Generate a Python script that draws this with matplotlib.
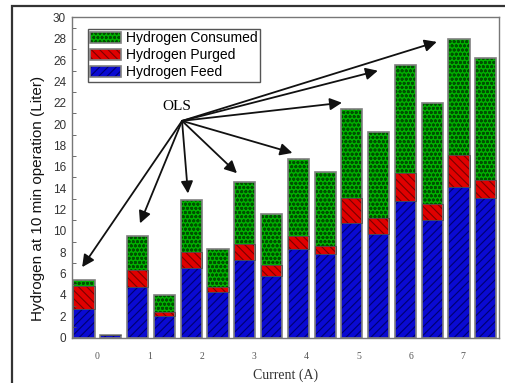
import matplotlib as mpl
mpl.use('agg')
import matplotlib.pyplot as plt
from matplotlib.patches import Rectangle
from matplotlib.legend_handler import HandlerTuple
from matplotlib.ticker import MultipleLocator

plt.rcParams['font.family'] = ['Liberation Sans', 'DejaVu Sans']
plt.rcParams['hatch.linewidth'] = 0.8

# hydrogen volumes (liter) per bar, two bars per current step
feed = [2.65, 0.2, 4.75, 2.0, 6.5, 4.25, 7.3, 5.8, 8.3, 7.8, 10.75, 9.75, 12.8, 11.0, 14.1, 13.1]
purged = [2.2, 0.0, 1.6, 0.4, 1.55, 0.45, 1.5, 1.0, 1.25, 0.8, 2.35, 1.45, 2.6, 1.5, 3.0, 1.7]
consumed = [0.55, 0.0, 3.2, 1.55, 4.85, 3.6, 5.8, 4.8, 7.15, 6.9, 8.3, 8.1, 10.1, 9.5, 10.9, 11.4]
current_labels = ['0', '1', '2', '3', '4', '5', '6', '7']

# OLS arrow tips (data coords)
ols_tips = [(-0.07, 6.6), (2.09, 10.7), (3.88, 13.5), (5.71, 15.4),
            (7.78, 17.3), (9.63, 22.0), (10.97, 25.0), (13.17, 27.7)]

x = list(range(len(feed)))
bottom_p = feed
bottom_c = [f + p for f, p in zip(feed, purged)]
totals = [b + c for b, c in zip(bottom_c, consumed)]

fig = plt.figure(figsize=(5.06, 3.83), dpi=100)
ax = fig.add_axes([0.1417, 0.1185, 0.8443, 0.8363])

w = 0.79
with plt.rc_context({'hatch.color': '#000070'}):
    b_feed = ax.bar(x, feed, w, color='#0a0ad2', hatch='////', linewidth=0,
                    label='Hydrogen Feed')
with plt.rc_context({'hatch.color': '#7a0000'}):
    b_purge = ax.bar(x, purged, w, bottom=bottom_p, color='#e00000', hatch='\\\\\\\\',
                     linewidth=0, label='Hydrogen Purged')
with plt.rc_context({'hatch.color': '#005000', 'hatch.linewidth': 0.9}):
    b_cons = ax.bar(x, consumed, w, bottom=bottom_c, color='#00b000', hatch='oooo',
                    linewidth=0, label='Hydrogen Consumed')

# outlines drawn separately so the hatch keeps its own colour
outline = ax.bar(x, totals, w, facecolor='none', edgecolor='#808080', linewidth=1.2)
seg_line = dict(facecolor='none', edgecolor='#505050', linewidth=0.6)
ax.bar(x, purged, w, bottom=bottom_p, **seg_line)

ax.set_xlim(-0.46, 15.49)
ax.set_ylim(0, 30)
ax.yaxis.set_major_locator(MultipleLocator(2))
ax.yaxis.set_minor_locator(MultipleLocator(1))
ax.tick_params(axis='y', which='major', length=0, labelsize=8.5, labelcolor='#333333', pad=4)
ax.tick_params(axis='y', which='minor', length=3, direction='in', color='#555555')
ax.set_xticks([0.5, 2.45, 4.4, 6.35, 8.3, 10.25, 12.2, 14.15])
ax.set_xticklabels(current_labels, family='Liberation Serif', fontsize=7, color='#555555')
ax.tick_params(axis='x', length=0, pad=10)

for s in ax.spines.values():
    s.set_color('#777777')
    s.set_linewidth(1.0)

ax.set_xlabel('Current (A)', family='Liberation Serif', fontsize=10, color='#333333', labelpad=6)
ax.set_ylabel('Hydrogen at 10 min operation (Liter)', fontsize=11, color='#111111')
ax.yaxis.set_label_coords(-0.063, 0.433)

handles = [(b_cons[0], outline[0]), (b_purge[0], outline[0]), (b_feed[0], outline[0])]
leg = ax.legend(handles, ['Hydrogen Consumed', 'Hydrogen Purged', 'Hydrogen Feed'],
                handler_map={tuple: HandlerTuple(ndivide=1)},
                loc='upper left', bbox_to_anchor=(0.037, 0.965), fontsize=10,
                fancybox=False, framealpha=1, edgecolor='#555555',
                borderpad=0.2, labelspacing=0.2, handlelength=2.2, handleheight=0.85,
                handletextpad=0.35, borderaxespad=0)
leg.get_frame().set_linewidth(1.0)

ols = (3.66, 20.3)
ax.text(3.45, 21.6, 'OLS', family='Liberation Serif', fontsize=11, ha='center', va='center')
for tip in ols_tips:
    ax.annotate('', xy=tip, xytext=ols,
                arrowprops=dict(arrowstyle='-|>', color='#111111', lw=1.3,
                                mutation_scale=18, shrinkA=0, shrinkB=0))

# frame around the whole figure
fig.add_artist(Rectangle((12 / 506, -0.2), 1.2, 1.2 - 6 / 383, transform=fig.transFigure,
                         fill=False, edgecolor='#333333', linewidth=1.6))

fig.savefig('out.png', dpi=100)
